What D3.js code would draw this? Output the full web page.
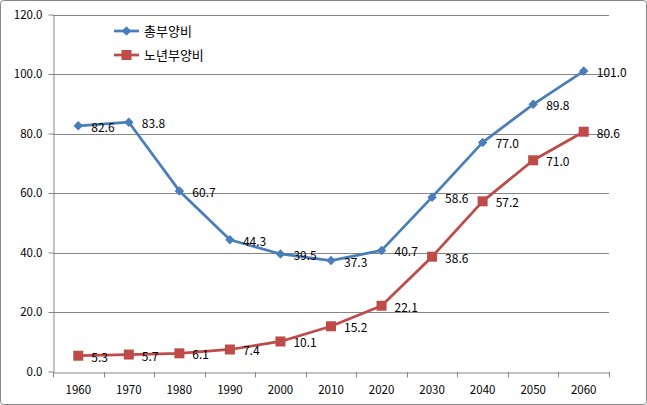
<!DOCTYPE html>
<html><head><meta charset="utf-8">
<script src="https://cdn.jsdelivr.net/npm/d3@7"></script>
<style>body{margin:0;background:#fff}svg{display:block}</style>
</head><body>
<svg id="c" width="647" height="405"></svg>
<script>
const years = ["1960","1970","1980","1990","2000","2010","2020","2030","2040","2050","2060"];
const totalRatio = [82.6, 83.8, 60.7, 44.3, 39.5, 37.3, 40.7, 58.6, 77.0, 89.8, 101.0];
const elderlyRatio = [5.3, 5.7, 6.1, 7.4, 10.1, 15.2, 22.1, 38.6, 57.2, 71.0, 80.6];
const seriesNames = ["총부양비", "노년부양비"];
const yTicks = [0, 20, 40, 60, 80, 100, 120];

const svg = d3.select("#c");
const font = "'Noto Sans CJK KR', 'DejaVu Sans', sans-serif";
svg.append("rect").attr("x",0.5).attr("y",0.5).attr("width",646).attr("height",404)
  .attr("rx",3).attr("fill","#fff").attr("stroke","#868686");

const L=53, R=609, T=14.5, B=371.5;
const x = d3.scaleBand().domain(years).range([L,R]);
const y = d3.scaleLinear().domain([0,120]).range([B,T]);

svg.append("g").selectAll("line").data(yTicks.filter(d=>d>0)).join("line")
  .attr("x1",L).attr("x2",R).attr("y1",d=>Math.round(y(d))+0.5).attr("y2",d=>Math.round(y(d))+0.5)
  .attr("stroke","#868686").attr("stroke-width",1);

const yAxis = svg.append("g").attr("transform",`translate(${L+0.5},0)`)
  .call(d3.axisLeft(y).tickValues(yTicks).tickSize(5).tickFormat(d3.format(".1f")).tickSizeOuter(0));
yAxis.select(".domain").attr("stroke","#868686");
yAxis.selectAll(".tick line").attr("stroke","#868686");
yAxis.selectAll(".tick text").attr("font-family",font).attr("font-size",11.5).attr("fill","#000").attr("x",-11);

const xAxis = svg.append("g").attr("transform",`translate(0,${Math.round(B)+0.5})`)
  .call(d3.axisBottom(x).tickSize(0).tickSizeOuter(0));
xAxis.select(".domain").attr("stroke","#868686");
xAxis.selectAll(".tick text").attr("font-family",font).attr("font-size",11.5).attr("fill","#000").attr("dy","1.6em");
svg.append("g").selectAll("line").data(d3.range(years.length+1)).join("line")
  .attr("x1",i=>Math.round(L+i*x.step())+0.5).attr("x2",i=>Math.round(L+i*x.step())+0.5)
  .attr("y1",Math.round(B)).attr("y2",Math.round(B)+5.5).attr("stroke","#868686");

const cx = d => x(d)+x.bandwidth()/2;
const line = d3.line().x((d,i)=>cx(years[i])).y(d=>y(d)).curve(d3.curveLinear);

const diamond = {draw(ctx, size){const r=Math.sqrt(size)/2; ctx.moveTo(0,-r); ctx.lineTo(r,0); ctx.lineTo(0,r); ctx.lineTo(-r,0); ctx.closePath();}};

const series = [
  {name:seriesNames[0], values:totalRatio, color:"#4a7ebb", shape:diamond, size:90},
  {name:seriesNames[1], values:elderlyRatio, color:"#be4b48", shape:d3.symbolSquare, size:100}
];

series.forEach(s=>{
  svg.append("path").attr("d",line(s.values)).attr("fill","none").attr("stroke",s.color).attr("stroke-width",2.75).attr("stroke-linejoin","round");
  svg.append("g").selectAll("path").data(s.values).join("path")
    .attr("transform",(d,i)=>`translate(${cx(years[i])},${y(d)})`)
    .attr("d",d3.symbol().type(s.shape).size(s.size)).attr("fill",s.color);
  svg.append("g").selectAll("text").data(s.values).join("text")
    .attr("x",(d,i)=>cx(years[i])+13).attr("y",(d)=>y(d)+6)
    .attr("font-family",font).attr("font-size",12).attr("fill","#000")
    .text(d=>d3.format(".1f")(d));
});

series.forEach((s,i)=>{
  const ly = 31 + i*24;
  const g = svg.append("g");
  g.append("line").attr("x1",114).attr("x2",139).attr("y1",ly).attr("y2",ly).attr("stroke",s.color).attr("stroke-width",2.75);
  g.append("path").attr("transform",`translate(126.5,${ly})`).attr("d",d3.symbol().type(s.shape).size(s.size)).attr("fill",s.color);
  g.append("text").attr("x",144).attr("y",ly+5).attr("font-family",font).attr("font-size",13).attr("fill","#000").text(s.name);
});
</script>
</body></html>
